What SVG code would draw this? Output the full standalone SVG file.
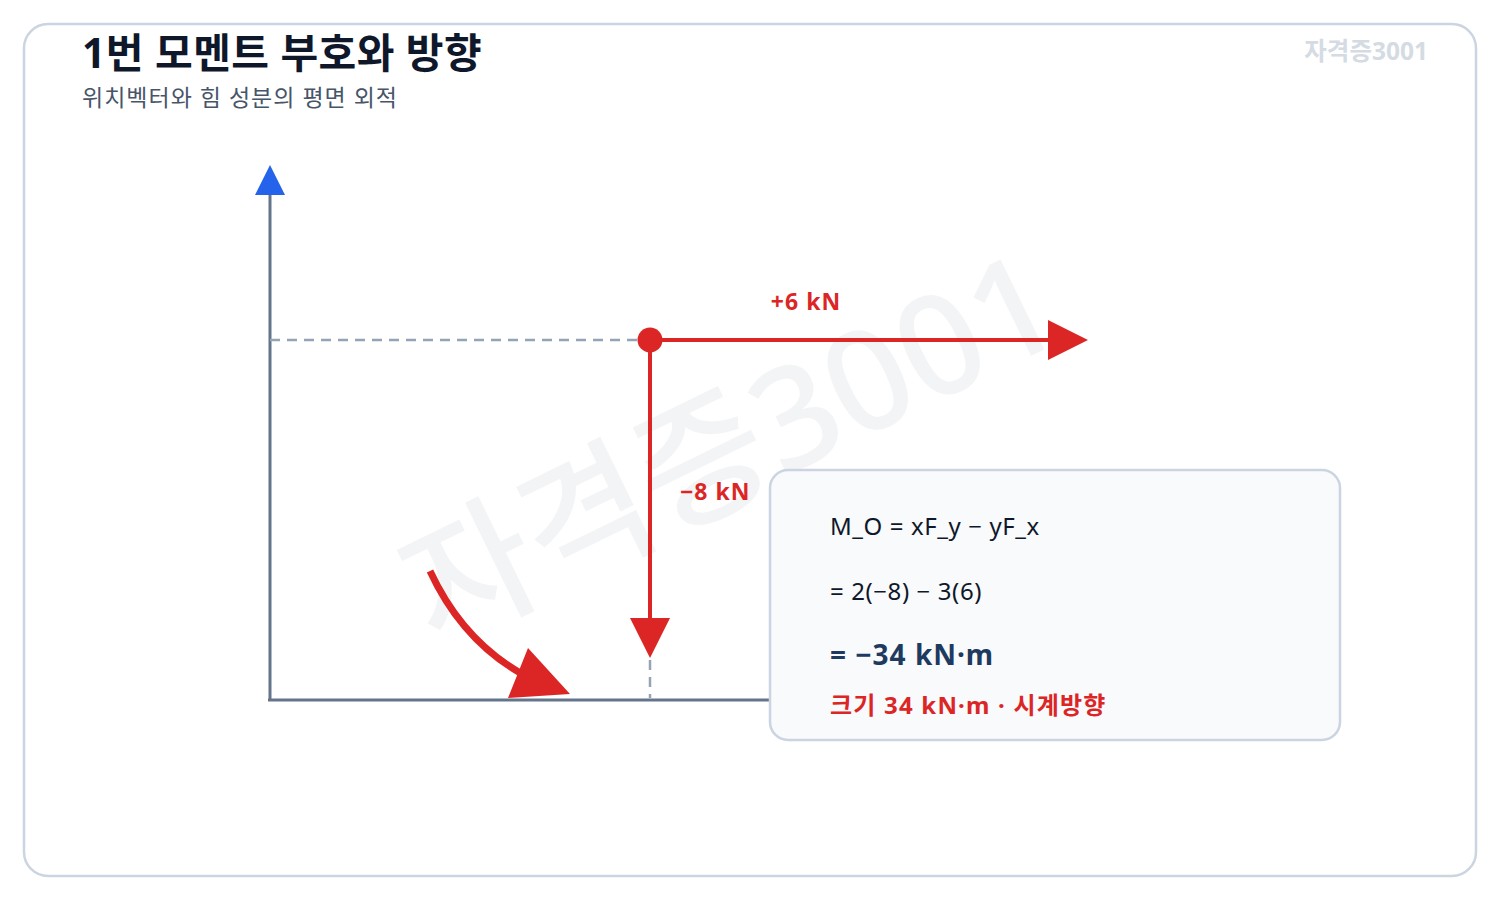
<svg xmlns="http://www.w3.org/2000/svg" width="1500" height="900" viewBox="0 0 1500 900">
<style>
text{font-family:"Noto Sans","Noto Sans CJK KR",sans-serif}
.axis{stroke:#64748b;stroke-width:3;fill:none}
.dash{stroke:#94a3b8;stroke-width:2.5;stroke-dasharray:10 7;fill:none}
.force{stroke:#dc2626;stroke-width:4;fill:none}
.red{fill:#dc2626}
.lbl{font-size:23px;font-weight:700;fill:#dc2626;letter-spacing:1px}
.eq{font-size:24px;fill:#0f172a;letter-spacing:0.6px}
</style>
<rect x="24" y="24" width="1452" height="852" rx="24" fill="#ffffff" stroke="#cbd5e1" stroke-width="2.5"/>
<text x="82" y="68" font-size="41" font-weight="700" fill="#0f172a" letter-spacing="0.4">1번 모멘트 부호와 방향</text>
<text x="82" y="106" font-size="23" fill="#475569" letter-spacing="1">위치벡터와 힘 성분의 평면 외적</text>
<text x="1428" y="60" font-size="24.5" font-weight="700" fill="#d5dbe3" text-anchor="end">자격증3001</text>
<text x="752" y="492" font-size="140" font-weight="500" fill="#f3f4f6" text-anchor="middle" transform="rotate(-26 752 492)">자격증3001</text>
<g id="axes">
<line class="axis" x1="270" y1="700" x2="270" y2="193"/>
<polygon points="270,165 255,195 285,195" fill="#2563eb"/>
<line class="axis" x1="268" y1="700" x2="790" y2="700"/>
</g>
<g id="connectors">
<line class="dash" x1="270" y1="340" x2="640" y2="340"/>
<line class="dash" x1="650" y1="660" x2="650" y2="698"/>
<line class="force" x1="650" y1="340" x2="1050" y2="340"/>
<polygon class="red" points="1088,340 1048,320 1048,360"/>
<line class="force" x1="650" y1="340" x2="650" y2="620"/>
<polygon class="red" points="650,658 630,618 670,618"/>
<path d="M430,571 Q462,640 522,674" stroke="#dc2626" stroke-width="7" fill="none"/>
<polygon class="red" points="570,694 528,648 508,698"/>
</g>
<g id="point"><circle cx="650" cy="340" r="12.5" fill="#dc2626"/></g>
<g id="labels">
<text class="lbl" x="806" y="310" text-anchor="middle">+6 kN</text>
<text class="lbl" x="680" y="500">−8 kN</text>
</g>
<g id="resultBox">
<rect x="770" y="470" width="570" height="270" rx="18" fill="#f8fafc" stroke="#cbd5e1" stroke-width="2.5"/>
<text class="eq" x="830" y="535">M_O = xF_y − yF_x</text>
<text class="eq" x="830" y="600">= 2(−8) − 3(6)</text>
<text x="830" y="665" font-size="28" font-weight="700" fill="#1e3a5f" letter-spacing="1">= −34 kN·m</text>
<text x="830" y="714" font-size="24" font-weight="700" fill="#dc2626" letter-spacing="1.2">크기 34 kN·m · 시계방향</text>
</g>
</svg>
